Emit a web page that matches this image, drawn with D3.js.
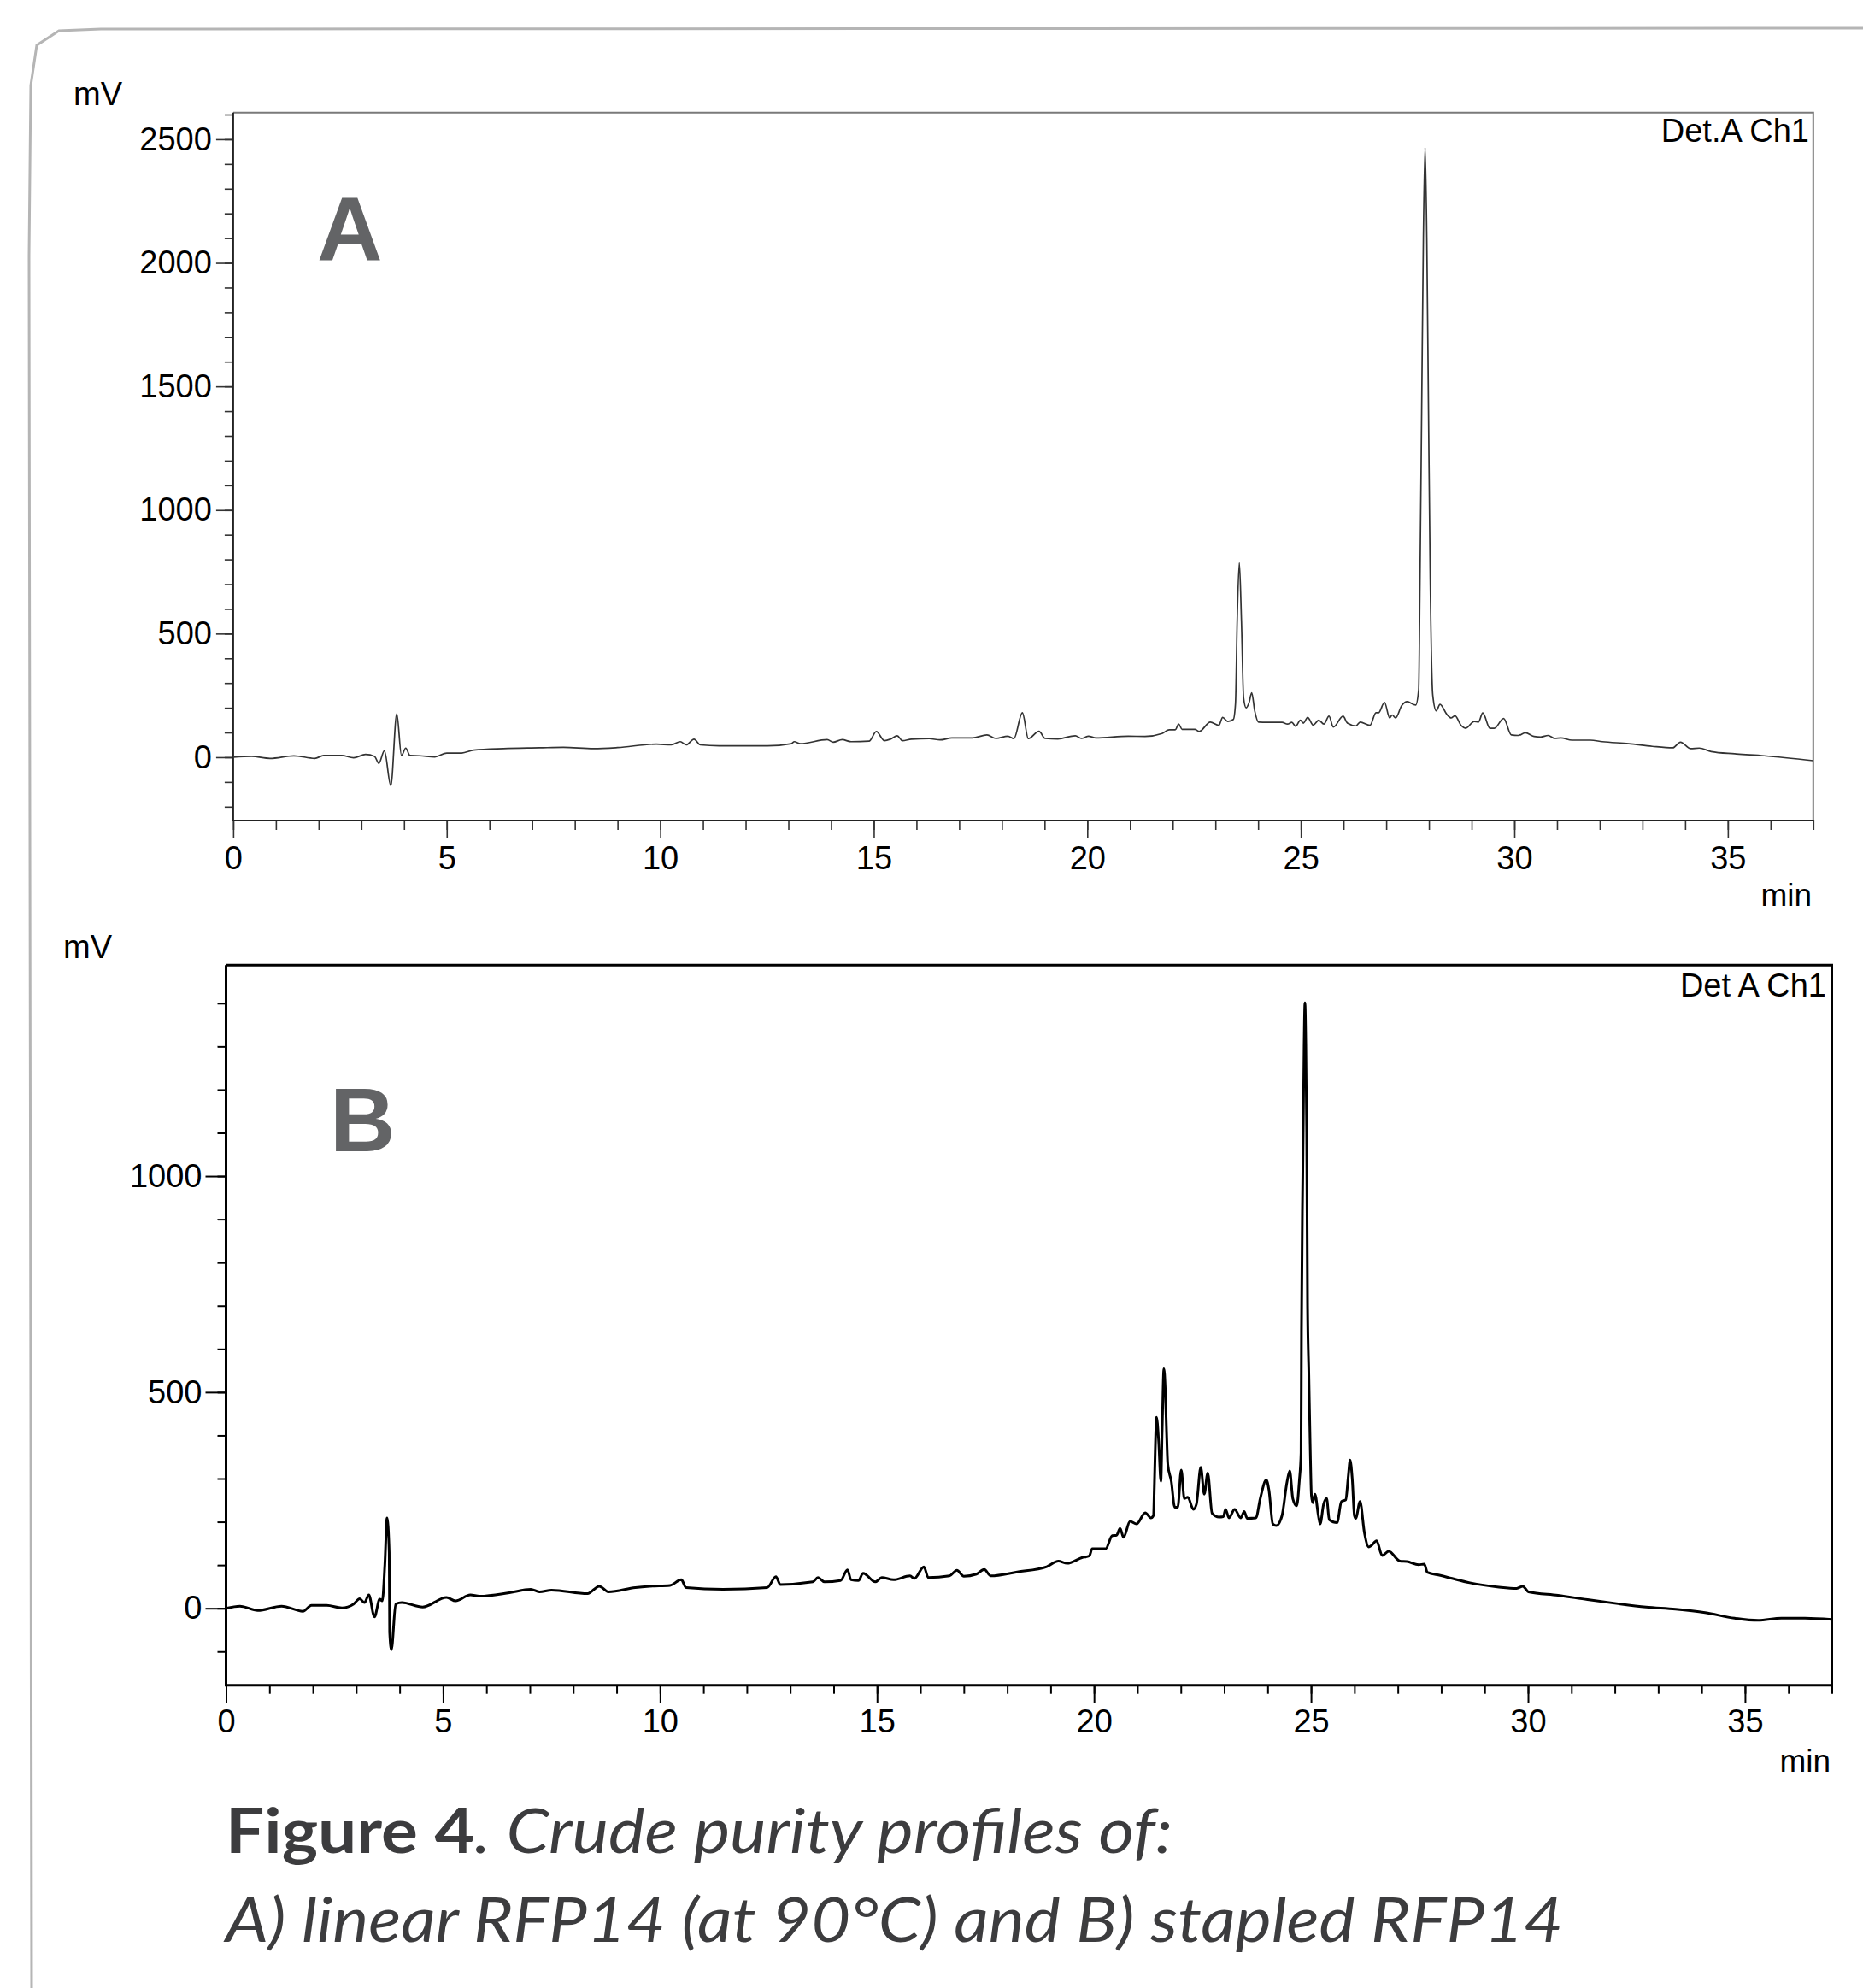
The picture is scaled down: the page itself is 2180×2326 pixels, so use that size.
<!DOCTYPE html>
<html>
<head>
<meta charset="utf-8">
<script src="https://cdn.jsdelivr.net/npm/d3@7"></script>
<style>
  body { margin: 0; background: #fff; }
  svg text { font-family: "Liberation Sans", Arial, sans-serif; }
</style>
</head>
<body>
<svg id="fig"></svg>
<script>
let svgWidth = 2180;
let svgHeight = 2326;

// chromatogram A (linear RFP14), time in min / signal in mV
let timeA = [0, 0.43, 0.86, 1.42, 1.91, 2.12, 2.54, 2.82, 3.10, 3.31, 3.41, 3.54, 3.69, 3.83, 3.94, 4.04, 4.14, 4.37, 4.72,
  5.0, 5.35, 5.63, 6.33, 7.17, 7.73, 8.44, 9.0, 9.91, 10.26, 10.47, 10.61, 10.79, 10.94, 11.38, 12.51, 13.07, 13.14, 13.28,
  13.91, 14.05, 14.26, 14.47, 14.89, 15.06, 15.25, 15.39, 15.55, 15.67, 15.88, 16.30, 16.55, 16.83, 17.31, 17.65, 17.86,
  18.14, 18.28, 18.48, 18.62, 18.87, 19.01, 19.31, 19.72, 19.86, 20.03, 20.20, 20.96, 21.35, 21.75, 21.92, 22.06, 22.14,
  22.22, 22.52, 22.62, 22.88, 23.08, 23.17, 23.29, 23.42, 23.47, 23.51, 23.56, 23.61, 23.66, 23.72, 23.79, 23.85, 23.92,
  24.01, 24.22, 24.56, 24.69, 24.79, 24.88, 24.99, 25.06, 25.16, 25.29, 25.42, 25.54, 25.66, 25.76, 25.99, 26.09, 26.29,
  26.39, 26.62, 26.76, 26.82, 26.96, 27.08, 27.14, 27.22, 27.36, 27.49, 27.69, 27.76, 27.79, 27.83, 27.87, 27.91, 27.95,
  27.99, 28.03, 28.09, 28.17, 28.26, 28.42, 28.52, 28.61, 28.76, 28.86, 29.06, 29.16, 29.26, 29.43, 29.53, 29.75, 29.93,
  30.09, 30.26, 30.46, 30.62, 30.79, 30.95, 31.09, 31.35, 31.78, 32.06, 32.68, 33.23, 33.71, 33.89, 34.13, 34.33, 34.61,
  35.16, 35.85, 37.0];
let signalA = [0, 3.5, -4.6, 5.8, -4.6, 6.9, 6.9, -2.3, 11.5, 3.5, -25, 26, -115, 176, 7, 37, 7, 6, 1,
  17, 17, 29, 35, 38, 40, 35, 39, 53, 50, 63, 50, 73, 50, 46, 46, 55, 63, 55,
  71, 61, 71, 63, 65, 104, 67, 73, 87, 67, 73, 75, 70, 78, 78, 90, 76,
  85, 75, 180, 75, 105, 76, 74, 87, 76, 85, 78, 85, 84, 96, 111, 111, 134,
  113, 113, 104, 142, 129, 161, 145, 153, 217, 551, 787, 551, 240, 200, 222, 261, 188,
  142, 141, 141, 134, 141, 125, 150, 138, 161, 130, 150, 134, 166, 122, 166, 138, 127,
  142, 129, 180, 180, 222, 159, 171, 159, 208, 225, 211, 274, 700, 1400, 2100, 2466, 2100,
  1400, 724, 251, 188, 214, 173, 159, 168, 127, 117, 145, 142, 179, 117, 117, 157, 90,
  88, 99, 84, 82, 88, 76, 78, 69, 69, 63, 55, 44, 38, 61, 35, 37, 23,
  14, 6, -14];

// chromatogram B (stapled RFP14)
let timeB = [0, 0.32, 0.73, 1.28, 1.77, 1.97, 2.32, 2.67, 2.94, 3.08, 3.19, 3.29, 3.42, 3.54, 3.60, 3.66, 3.71, 3.76, 3.77,
  3.81, 3.91, 4.05, 4.53, 5.08, 5.29, 5.63, 5.84, 6.53, 7.02, 7.22, 7.50, 8.33, 8.60, 8.81, 9.43, 9.76, 10.23, 10.49,
  10.60, 11.45, 12.47, 12.67, 12.77, 13.52, 13.64, 13.79, 14.16, 14.32, 14.40, 14.57, 14.68, 14.96, 15.11, 15.38, 15.76,
  15.86, 16.08, 16.18, 16.67, 16.84, 17.00, 17.29, 17.47, 17.62, 18.23, 18.91, 19.18, 19.38, 19.72, 19.89, 19.96, 20.27,
  20.42, 20.52, 20.60, 20.68, 20.83, 20.98, 21.18, 21.31, 21.37, 21.39, 21.41, 21.44, 21.49, 21.54, 21.57, 21.61, 21.64,
  21.67, 21.70, 21.78, 21.86, 21.93, 22.01, 22.08, 22.16, 22.29, 22.36, 22.46, 22.54, 22.62, 22.72, 22.88, 22.98, 23.03,
  23.11, 23.24, 23.38, 23.46, 23.53, 23.73, 23.83, 23.97, 24.03, 24.12, 24.20, 24.33, 24.45, 24.51, 24.58, 24.67, 24.73,
  24.77, 24.78, 24.81, 24.84, 24.86, 24.88, 24.90, 24.92, 24.95, 24.98, 25.01, 25.04, 25.09, 25.17, 25.21, 25.29, 25.36,
  25.42, 25.60, 25.70, 25.80, 25.86, 25.90, 25.95, 26.00, 26.03, 26.13, 26.23, 26.33, 26.39, 26.51, 26.64, 26.79, 27.05,
  27.21, 27.48, 27.61, 27.68, 27.98, 28.25, 28.66, 29.33, 29.74, 29.88, 30.01, 30.69, 31.37, 32.04, 32.72, 33.40, 34.08,
  34.76, 35.30, 35.84, 36.38, 37.0];
let signalB = [0, 5, -5, 5, -7, 7, 7, 1, 10, 22, 13, 31, -20, 21, 17, 102, 209, 129, -56,
  -96, 10, 13, 3, 25, 17, 31, 28, 36, 44, 38, 42, 34, 51, 38, 48, 51, 53, 66,
  48, 44, 48, 73, 55, 61, 71, 61, 64, 89, 66, 64, 81, 61, 71, 66, 75,
  69, 96, 71, 75, 88, 74, 79, 90, 75, 84, 96, 109, 104, 117, 121, 138, 138,
  168, 169, 185, 164, 201, 195, 221, 209, 215, 280, 363, 442, 386, 294, 412, 554, 511,
  412, 333, 294, 234, 234, 320, 254, 257, 229, 241, 326, 264, 313, 220, 211, 212, 229,
  209, 229, 209, 224, 208, 209, 254, 297, 274, 195, 191, 214, 294, 318, 254, 237, 294,
  360, 640, 1000, 1300, 1401, 1305, 1100, 700, 540, 379, 260, 244, 264, 214, 195, 241, 254,
  205, 198, 247, 251, 307, 343, 300, 214, 208, 247, 175, 142, 145, 156, 122, 132, 109,
  108, 101, 102, 83, 76, 69, 59, 49, 46, 51, 38, 30, 20, 11, 3, -2, -10,
  -23, -28, -23, -23, -26];

// tick values
let xMajor = [0, 5, 10, 15, 20, 25, 30, 35];
let xMinor = d3.range(0, 38, 1);
let yMajorA = [0, 500, 1000, 1500, 2000, 2500];
let yMinorA = d3.range(-200, 2700, 100);
let yMajorB = [0, 500, 1000];
let yMinorB = d3.range(-100, 1500, 100);

let svg = d3.select("#fig")
  .attr("width", svgWidth)
  .attr("height", svgHeight);

svg.append("rect").attr("width", svgWidth).attr("height", svgHeight).attr("fill", "#fff");

// outer card border
svg.append("path")
  .attr("d", "M2180,33 L118,34 L69,36 L43,53 L36,100 L34,300 L37,2326")
  .attr("fill", "none")
  .attr("stroke", "#b5b5b5")
  .attr("stroke-width", 3);

function drawPanel(opt) {
  let x = d3.scaleLinear().domain([0, 37]).range([opt.left, opt.right]);
  let y = d3.scaleLinear().domain(opt.yDomain).range([opt.bottom, opt.top]);
  let g = svg.append("g");

  // frame: top/right
  g.append("path")
    .attr("d", `M${opt.left},${opt.top} L${opt.right},${opt.top} L${opt.right},${opt.bottom}`)
    .attr("fill", "none")
    .attr("stroke", opt.frameColor)
    .attr("stroke-width", opt.frameWidth);

  // minor ticks
  g.append("g")
    .attr("transform", `translate(${opt.left},0)`)
    .call(d3.axisLeft(y).tickValues(opt.yMinor).tickSize(10).tickFormat(""))
    .call(a => a.select(".domain").remove());
  g.append("g")
    .attr("transform", `translate(0,${opt.bottom})`)
    .call(d3.axisBottom(x).tickValues(xMinor).tickSize(opt.minorX).tickFormat(""))
    .call(a => a.select(".domain").remove());

  // major ticks + labels
  let yAxis = g.append("g")
    .attr("transform", `translate(${opt.left},0)`)
    .call(d3.axisLeft(y).tickValues(opt.yMajor).tickSize(opt.majorY).tickPadding(opt.yPad).tickFormat(d3.format("d")))
    .call(a => a.select(".domain").remove());
  let xAxis = g.append("g")
    .attr("transform", `translate(0,${opt.bottom})`)
    .call(d3.axisBottom(x).tickValues(xMajor).tickSize(21).tickPadding(opt.xPad).tickFormat(d3.format("d")))
    .call(a => a.select(".domain").remove());

  g.selectAll(".tick line").attr("stroke", opt.tickColor).attr("stroke-width", opt.tickWidth);
  [yAxis, xAxis].forEach(a => a.selectAll("text")
    .attr("font-size", 38)
    .attr("fill", "#000")
    .style("font-family", "'Liberation Sans', Arial, sans-serif"));

  // axis lines left/bottom
  g.append("path")
    .attr("d", `M${opt.left},${opt.top} L${opt.left},${opt.bottom} L${opt.right},${opt.bottom}`)
    .attr("fill", "none")
    .attr("stroke", opt.axisColor)
    .attr("stroke-width", opt.axisWidth);

  // trace
  let line = d3.line()
    .x((d, i) => x(opt.times[i]))
    .y(d => y(d))
    .curve(d3.curveMonotoneX);
  g.append("path")
    .datum(opt.values)
    .attr("d", line)
    .attr("fill", "none")
    .attr("stroke", opt.lineColor)
    .attr("stroke-width", opt.lineWidth)
    .attr("stroke-linejoin", "round");

  g.append("text")
    .attr("x", opt.mvX).attr("y", opt.mvY)
    .attr("font-size", 38)
    .text("mV");
  g.append("text")
    .attr("x", opt.minX).attr("y", opt.minY)
    .attr("text-anchor", "end")
    .attr("font-size", 37)
    .text("min");
  g.append("text")
    .attr("x", opt.detX).attr("y", opt.detY)
    .attr("text-anchor", "end")
    .attr("font-size", 38)
    .text(opt.detLabel);
  g.append("text")
    .attr("x", opt.letterX).attr("y", opt.letterY)
    .attr("font-size", 106)
    .attr("font-weight", "bold")
    .attr("fill", "#636466")
    .text(opt.letter);
}

drawPanel({
  left: 272.9, right: 2121.8, top: 131.7, bottom: 960,
  yDomain: [-256, 2608],
  yMajor: yMajorA, yMinor: yMinorA,
  majorY: 20, minorX: 11, yPad: 5, xPad: 9,
  frameColor: "#7a7a7a", frameWidth: 2,
  axisColor: "#222", axisWidth: 2,
  tickColor: "#333", tickWidth: 1.6,
  times: timeA, values: signalA,
  lineColor: "#333", lineWidth: 1.7,
  mvX: 86, mvY: 123,
  minX: 2120, minY: 1060,
  detX: 2117, detY: 166, detLabel: "Det.A Ch1",
  letter: "A", letterX: 371, letterY: 305
});

drawPanel({
  left: 264.5, right: 2143.5, top: 1129.3, bottom: 1971.7,
  yDomain: [-178, 1488],
  yMajor: yMajorB, yMinor: yMinorB,
  majorY: 24, minorX: 10, yPad: 4, xPad: 7,
  frameColor: "#000", frameWidth: 3,
  axisColor: "#000", axisWidth: 3,
  tickColor: "#000", tickWidth: 2,
  times: timeB, values: signalB,
  lineColor: "#000", lineWidth: 3,
  mvX: 74, mvY: 1121,
  minX: 2142, minY: 2073,
  detX: 2137, detY: 1166, detLabel: "Det A Ch1",
  letter: "B", letterX: 386, letterY: 1347
});

// caption
let cap = svg.append("text")
  .attr("x", 264).attr("y", 2168)
  .attr("font-size", 72)
  .attr("fill", "#3c3c3e")
  .attr("textLength", 1108)
  .attr("lengthAdjust", "spacingAndGlyphs")
  .style("font-family", "Lato, 'Open Sans', sans-serif");
cap.append("tspan").attr("font-weight", 700).text("Figure 4");
cap.append("tspan").attr("font-weight", 400).attr("font-style", "italic").text(". Crude purity profiles of:");

svg.append("text")
  .attr("x", 264).attr("y", 2272)
  .attr("font-size", 72)
  .attr("font-weight", 400)
  .attr("font-style", "italic")
  .attr("fill", "#3c3c3e")
  .attr("textLength", 1565)
  .attr("lengthAdjust", "spacingAndGlyphs")
  .style("font-family", "Lato, 'Open Sans', sans-serif")
  .text("A) linear RFP14 (at 90°C) and B) stapled RFP14");
</script>
</body>
</html>
